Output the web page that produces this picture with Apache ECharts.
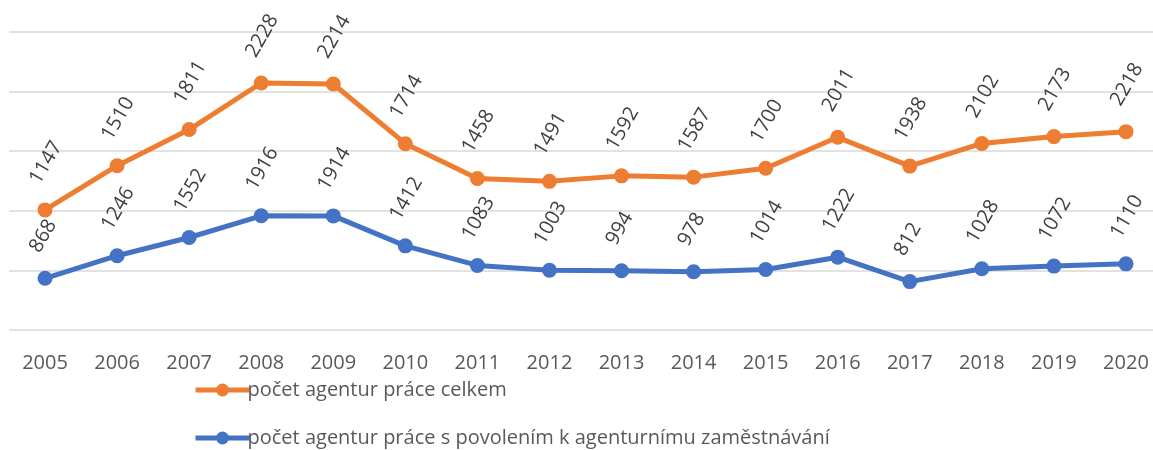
<!DOCTYPE html>
<html>
<head>
<meta charset="utf-8">
<script src="https://cdn.jsdelivr.net/npm/echarts@6/dist/echarts.min.js"></script>
<style>html,body{margin:0;padding:0;background:#fff}#c{width:1153px;height:450px}</style>
</head>
<body>
<div id="c"></div>
<script>
const years = ['2005','2006','2007','2008','2009','2010','2011','2012','2013','2014','2015','2016','2017','2018','2019','2020'];
const celkem = [1147,1510,1811,2228,2214,1714,1458,1491,1592,1587,1700,2011,1938,2102,2173,2218];
const povoleni = [868,1246,1552,1916,1914,1412,1083,1003,994,978,1014,1222,812,1028,1072,1110];
const nameCelkem = 'počet agentur práce celkem';
const namePovoleni = 'počet agentur práce s povolením k agenturnímu zaměstnávání';

const font = '"Open Sans", "Noto Sans", sans-serif';
const labelCfg = {
  show: true, position: 'top', distance: 0, offset: [12, -19],
  rotate: 60, align: 'left', verticalAlign: 'middle',
  color: '#404040', fontSize: 20, fontFamily: font
};
const legendBase = {
  orient: 'horizontal', left: 188, itemWidth: 54, itemHeight: 16,
  lineStyle: {width: 5},
  textStyle: {color: '#595959', fontSize: 20, fontFamily: font, padding: [0,0,0,-7]}
};
const chart = echarts.init(document.getElementById('c'));
chart.setOption({
  animation: false,
  grid: {left: 9, width: 1153, top: 32, height: 298, containLabel: false, outerBoundsMode: 'none'},
  xAxis: {
    type: 'category', data: years, boundaryGap: true,
    axisLine: {show: false}, axisTick: {show: false},
    axisLabel: {color: '#595959', fontSize: 20, fontFamily: font, margin: 23, interval: 0}
  },
  yAxis: {
    type: 'value', min: 0, max: 5000, interval: 1000,
    axisLabel: {show: false}, axisLine: {show: false}, axisTick: {show: false},
    splitLine: {lineStyle: {color: '#d9d9d9', width: 1.5}}
  },
  legend: [
    Object.assign({}, legendBase, {top: 375, data: [nameCelkem]}),
    Object.assign({}, legendBase, {top: 423, data: [namePovoleni]})
  ],
  series: [
    {
      name: namePovoleni, type: 'line', stack: 'total', data: povoleni,
      symbol: 'circle', symbolSize: 15,
      itemStyle: {color: '#4472C4'}, lineStyle: {color: '#4472C4', width: 5},
      label: labelCfg
    },
    {
      name: nameCelkem, type: 'line', stack: 'total', data: celkem,
      symbol: 'circle', symbolSize: 15,
      itemStyle: {color: '#ED7D31'}, lineStyle: {color: '#ED7D31', width: 5},
      label: labelCfg
    }
  ]
});
</script>
</body>
</html>
